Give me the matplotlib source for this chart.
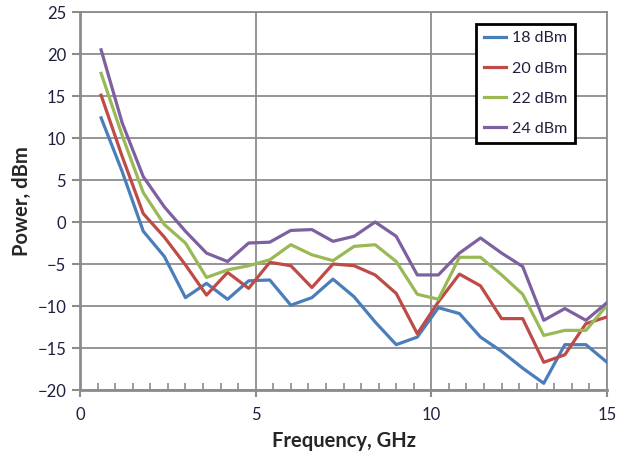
import numpy as np
import matplotlib
matplotlib.use("Agg")
import matplotlib.pyplot as plt
from matplotlib.ticker import MultipleLocator

plt.rcParams['font.family'] = ['Lato', 'DejaVu Sans']

# frequency points (GHz)
freq = [0.6, 1.2, 1.8, 2.4, 3.0, 3.6, 4.2, 4.8, 5.4, 6.0, 6.6, 7.2, 7.8,
        8.4, 9.0, 9.6, 10.2, 10.8, 11.4, 12.0, 12.6, 13.2, 13.8, 14.4, 15.0]

p18 = [12.4, 6.0, -1.1, -4.1, -9.0, -7.3, -9.2, -7.0, -6.9, -9.9, -9.0, -6.8, -8.9,
       -11.9, -14.6, -13.7, -10.2, -10.9, -13.7, -15.4, -17.4, -19.2, -14.6, -14.6, -16.7]
p20 = [15.1, 7.8, 1.0, -1.8, -5.1, -8.7, -6.0, -7.9, -4.8, -5.2, -7.8, -5.0, -5.2,
       -6.3, -8.5, -13.3, -9.5, -6.2, -7.6, -11.5, -11.5, -16.7, -15.8, -12.1, -11.3]
p22 = [17.7, 10.3, 3.5, -0.3, -2.5, -6.6, -5.7, -5.2, -4.5, -2.7, -3.9, -4.6, -2.9,
       -2.7, -4.7, -8.6, -9.2, -4.2, -4.2, -6.3, -8.6, -13.5, -12.9, -12.9, -9.9]
p24 = [20.5, 11.8, 5.4, 1.8, -1.1, -3.7, -4.7, -2.5, -2.4, -1.0, -0.9, -2.3, -1.7,
       0.0, -1.7, -6.3, -6.3, -3.7, -1.9, -3.7, -5.3, -11.7, -10.3, -11.7, -9.6]

series = [p18, p20, p22, p24]
labels = ['18 dBm', '20 dBm', '22 dBm', '24 dBm']
colors = ['#4a7ebb', '#be4b48', '#98b954', '#7d60a0']

fig = plt.figure(figsize=(6.17, 4.62), dpi=100)
ax = fig.add_axes([0.1297, 0.1558, 0.8541, 0.8182])

for y, lab, c in zip(series, labels, colors):
    ax.plot(freq, y, color=c, lw=2.3, label=lab, zorder=3)

ax.set_xlim(0, 15)
ax.set_ylim(-20, 25)
ax.xaxis.set_major_locator(MultipleLocator(5))
ax.xaxis.set_minor_locator(MultipleLocator(0.5))
ax.yaxis.set_major_locator(MultipleLocator(5))

ax.grid(which='major', color='#8c8c8c', lw=1.3, zorder=1)
for s in ['top', 'right']:
    ax.spines[s].set_color('#8c8c8c')
    ax.spines[s].set_linewidth(1.3)
for s in ['left', 'bottom']:
    ax.spines[s].set_color('#8c8c8c')
    ax.spines[s].set_linewidth(2.0)

ax.tick_params(axis='y', which='major', direction='out', length=6, width=1.5,
               color='#8c8c8c', labelsize=12, labelcolor='#1f1f3f', pad=4)
ax.tick_params(axis='x', which='major', direction='out', length=5, width=1.5,
               color='#8c8c8c', labelsize=12, labelcolor='#1f1f3f', pad=7)
ax.tick_params(axis='x', which='minor', direction='in', length=5, width=1.2,
               color='#8c8c8c')

ax.set_xlabel('Frequency, GHz', fontsize=14.5, fontweight='bold', color='#262626', labelpad=6)
ax.set_ylabel('Power, dBm', fontsize=14.5, fontweight='bold', color='#262626', labelpad=4)

leg = ax.legend(loc='upper right', bbox_to_anchor=(0.939, 0.968), fontsize=11.5,
                frameon=True, fancybox=False, handlelength=1.4, handletextpad=0.4,
                borderpad=0.45, labelspacing=1.0, borderaxespad=0)
leg.get_frame().set_edgecolor('black')
leg.get_frame().set_linewidth(2.0)
leg.get_frame().set_alpha(1)
leg.set_zorder(5)
for t in leg.get_texts():
    t.set_color('#1f1f3f')

fig.savefig('out.png', dpi=100)
